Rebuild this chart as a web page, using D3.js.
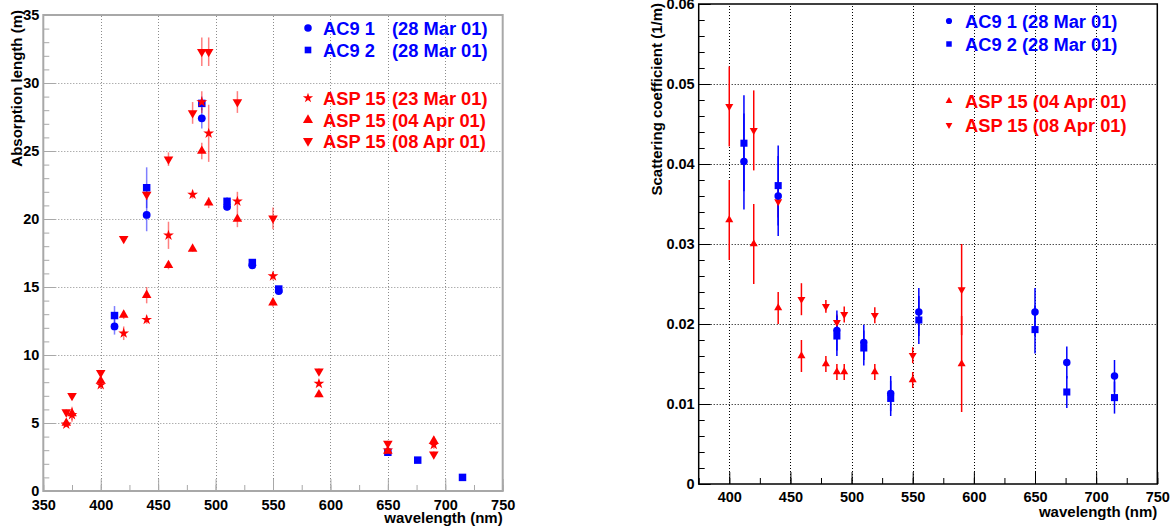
<!DOCTYPE html>
<html>
<head>
<meta charset="utf-8">
<script src="https://cdn.jsdelivr.net/npm/d3@7"></script>
<style>
  body { margin: 0; background: #fff; }
  svg { display: block; font-family: "Liberation Sans", Arial, sans-serif; font-weight: bold; }
</style>
</head>
<body>
<div id="chart"></div>
<script>
// absorption length (m), left panel
const ac9aAbsWl = [412, 440, 488, 510, 532, 555];
const ac9aAbs = [12.1, 20.3, 27.4, 20.9, 16.6, 14.7];
const ac9aAbsErr = [0.6, 1.2, 0.75, 0.3, 0.2, 0.2];

const ac9bAbsWl = [412, 440, 488, 510, 532, 555, 650, 676, 715];
const ac9bAbs = [12.9, 22.3, 28.5, 21.3, 16.8, 14.85, 2.85, 2.27, 1.0];
const ac9bAbsErr = [0.7, 1.5, 0.5, 0.3, 0.2, 0.2, 0.15, 0.1, 0.1];

const aspWl = [370, 375, 400, 420, 440, 459, 480, 488, 494, 519, 550, 590, 650, 690];
const asp23Abs = [4.9, 5.6, 7.8, 11.6, 12.6, 18.8, 21.8, 28.6, 26.3, 21.3, 15.8, 7.9, 3.0, 3.4];
const asp23AbsErr = [0.2, 0.5, 0.3, 0.5, 0.3, 1.0, 0.3, 0.8, 2.1, 0.7, 0.3, 0.2, 0.3, 0.3];
const asp04Abs = [5.0, 5.7, 8.1, 12.95, 14.4, 16.6, 17.8, 25.0, 21.2, 20.0, 13.85, 7.1, 2.95, 3.7];
const asp04AbsErr = [0.2, 0.5, 0.3, 0.3, 0.6, 0.3, 0.2, 0.6, 0.4, 0.6, 0.3, 0.2, 0.3, 0.3];
const asp08Abs = [5.8, 7.0, 8.7, 18.55, 21.8, 24.4, 27.8, 32.3, 32.3, 28.6, 20.05, 8.8, 3.5, 2.7];
const asp08AbsErr = [0.2, 0.2, 0.2, 0.2, 0.4, 0.5, 0.8, 1.05, 1.05, 0.8, 0.8, 0.2, 0.2, 0.2];

// scattering coefficient (1/m), right panel
const ac9ScatWl = [412, 440, 488, 510, 532, 555, 650, 676, 715];
const ac9aScat = [0.0403, 0.036, 0.0192, 0.0177, 0.0113, 0.0215, 0.0215, 0.0152, 0.0135];
const ac9aScatErr = [0.006, 0.005, 0.0025, 0.0022, 0.0022, 0.003, 0.003, 0.002, 0.002];
const ac9bScat = [0.0426, 0.0373, 0.0185, 0.017, 0.0107, 0.0205, 0.0193, 0.0115, 0.0108];
const ac9bScatErr = [0.006, 0.005, 0.0025, 0.0022, 0.0022, 0.003, 0.003, 0.002, 0.002];

const aspScatWl = [400, 420, 440, 459, 479, 488, 494, 519, 550, 590];
const asp04Scat = [0.033, 0.030, 0.022, 0.016, 0.015, 0.014, 0.014, 0.014, 0.013, 0.015];
const asp04ScatErr = [0.005, 0.005, 0.002, 0.002, 0.001, 0.001, 0.001, 0.001, 0.001, 0.006];
const asp08Scat = [0.0472, 0.0442, 0.0353, 0.0231, 0.0222, 0.0202, 0.0212, 0.0211, 0.0161, 0.0243];
const asp08ScatErr = [0.005, 0.005, 0.002, 0.002, 0.0008, 0.001, 0.001, 0.001, 0.001, 0.0057];

const absTicks = [0, 5, 10, 15, 20, 25, 30, 35];
const scatTicks = [0, 0.01, 0.02, 0.03, 0.04, 0.05, 0.06];
const wlTicksLeft = [350, 400, 450, 500, 550, 600, 650, 700, 750];
const wlTicksRight = [400, 450, 500, 550, 600, 650, 700, 750];

const legendNames = ["AC9 1", "AC9 2", "ASP 15", "ASP 15", "ASP 15"];
const legendDates = ["(28 Mar 01)", "(28 Mar 01)", "(23 Mar 01)", "(04 Apr 01)", "(08 Apr 01)"];

const RED = "#ff0000", BLUE = "#0000ff";

const svg = d3.select("#chart").append("svg")
  .attr("width", 1173)
  .attr("height", 527);

const zip = (wl, v, e) => wl.map((w, i) => ({ w, v: v[i], e: e[i] }));

const symbolPath = (kind, size) => {
  const t = { circle: d3.symbolCircle, square: d3.symbolSquare, up: d3.symbolTriangle,
    down: d3.symbolTriangle, star: d3.symbolStar }[kind];
  return d3.symbol().type(t).size(size)();
};

const drawMarker = (g, kind, size, color, x, y) => g.append("path")
  .attr("d", symbolPath(kind, size))
  .attr("fill", color)
  .attr("transform", `translate(${x},${y})` + (kind === "down" ? " rotate(180)" : ""));

const panel = (cfg) => {
  const x = d3.scaleLinear().domain(cfg.xDomain).range(cfg.xRange);
  const y = d3.scaleLinear().domain(cfg.yDomain).range(cfg.yRange);
  const g = svg.append("g");
  const [x0, x1] = cfg.xRange, [y0, y1] = cfg.yRange;

  // grid
  g.append("g")
    .attr("stroke", cfg.gridColor)
    .attr("stroke-dasharray", "1,2")
    .call(gg => gg.selectAll(".gx")
      .data(cfg.xTicks.filter(d => d > cfg.xDomain[0] && d < cfg.xDomain[1]))
      .join("line")
        .attr("x1", d => Math.round(x(d)) + 0.5).attr("x2", d => Math.round(x(d)) + 0.5)
        .attr("y1", y0).attr("y2", y1))
    .call(gg => gg.selectAll(".gy")
      .data(cfg.yTicks.filter(d => d > cfg.yDomain[0] && d < cfg.yDomain[1]))
      .join("line")
        .attr("y1", d => Math.round(y(d)) + 0.5).attr("y2", d => Math.round(y(d)) + 0.5)
        .attr("x1", x0).attr("x2", x1));

  // minor ticks
  g.append("g")
    .attr("transform", `translate(0,${y0})`)
    .call(d3.axisBottom(x).tickValues(d3.range(cfg.xDomain[0], cfg.xDomain[1] + 1, 25)).tickSize(-6).tickFormat(""))
    .call(a => a.selectAll("line").attr("stroke", cfg.axisColor))
    .call(a => a.select(".domain").remove());
  g.append("g")
    .attr("transform", `translate(${x0},0)`)
    .call(d3.axisLeft(y).tickValues(d3.range(cfg.yDomain[0], cfg.yDomain[1] + cfg.yMinor / 2, cfg.yMinor)).tickSize(-6).tickFormat(""))
    .call(a => a.selectAll("line").attr("stroke", cfg.axisColor))
    .call(a => a.select(".domain").remove());

  // major ticks and labels
  g.append("g")
    .attr("transform", `translate(0,${y0})`)
    .call(d3.axisBottom(x).tickValues(cfg.xTicks).tickSize(-12).tickPadding(cfg.xPad).tickFormat(d3.format("d")))
    .call(a => a.selectAll("line").attr("stroke", cfg.axisColor))
    .call(a => a.selectAll("text").attr("font-size", 14.5).attr("font-weight", "bold").attr("fill", "#000"))
    .call(a => a.select(".domain").remove());
  g.append("g")
    .attr("transform", `translate(${x0},0)`)
    .call(d3.axisLeft(y).tickValues(cfg.yTicks).tickSize(-12).tickPadding(4).tickFormat(cfg.yFormat))
    .call(a => a.selectAll("line").attr("stroke", cfg.axisColor))
    .call(a => a.selectAll("text").attr("font-size", 14.5).attr("font-weight", "bold").attr("fill", "#000"))
    .call(a => a.select(".domain").remove());

  // frame
  g.append("rect")
    .attr("x", x0).attr("y", y1)
    .attr("width", x1 - x0).attr("height", y0 - y1)
    .attr("fill", "none")
    .attr("stroke", cfg.axisColor)
    .attr("stroke-width", cfg.frameWidth);

  // titles
  g.append("text")
    .attr("transform", `translate(${cfg.yTitleX},${cfg.yTitleTop}) rotate(-90)`)
    .attr("text-anchor", "end")
    .attr("font-size", 15)
    .text(cfg.yTitle);
  g.append("text")
    .attr("x", x1).attr("y", cfg.xTitleY)
    .attr("text-anchor", "end")
    .attr("font-size", 15)
    .text("wavelength (nm)");

  // data
  cfg.series.forEach(s => {
    const pts = zip(s.wl, s.v, s.e);
    g.append("g")
      .attr("stroke", s.color)
      .attr("stroke-opacity", cfg.errOpacity)
      .attr("stroke-width", cfg.errWidth)
      .selectAll("line")
      .data(pts)
      .join("line")
        .attr("x1", d => x(d.w)).attr("x2", d => x(d.w))
        .attr("y1", d => y(d.v - d.e)).attr("y2", d => y(d.v + d.e));
  });
  cfg.series.forEach(s => {
    const gm = g.append("g");
    zip(s.wl, s.v, s.e).forEach(d => drawMarker(gm, s.kind, s.size, s.color, x(d.w), y(d.v)));
  });

  return g;
};

// left: absorption length
const left = panel({
  xDomain: [350, 750], xRange: [43.3, 502.7],
  yDomain: [0, 35], yRange: [491, 15],
  xTicks: wlTicksLeft, yTicks: absTicks, yMinor: 1,
  yFormat: d3.format("d"), xPad: 9,
  axisColor: "#a8a8a8", gridColor: "#8c8c8c", frameWidth: 2,
  yTitle: "Absorption length (m)", yTitleX: 22, yTitleTop: 10, xTitleY: 523,
  errOpacity: 0.5, errWidth: 1.5,
  series: [
    { wl: ac9bAbsWl, v: ac9bAbs, e: ac9bAbsErr, kind: "square", size: 56, color: BLUE },
    { wl: ac9aAbsWl, v: ac9aAbs, e: ac9aAbsErr, kind: "circle", size: 48, color: BLUE },
    { wl: aspWl, v: asp04Abs, e: asp04AbsErr, kind: "up", size: 40, color: RED },
    { wl: aspWl, v: asp08Abs, e: asp08AbsErr, kind: "down", size: 40, color: RED },
    { wl: aspWl, v: asp23Abs, e: asp23AbsErr, kind: "star", size: 36, color: RED }
  ]
});

const leftLegendKinds = ["circle", "square", "star", "up", "down"];
const leftLegendY = [28, 50, 98, 120, 141];
leftLegendKinds.forEach((k, i) => {
  const color = i < 2 ? BLUE : RED;
  drawMarker(left, k, k === "star" ? 32 : 44, color, 308, leftLegendY[i]);
  left.append("text").attr("x", 323).attr("y", leftLegendY[i] + 6.5)
    .attr("font-size", 18.3).attr("fill", color).text(legendNames[i]);
  left.append("text").attr("x", 392).attr("y", leftLegendY[i] + 6.5)
    .attr("font-size", 18.3).attr("fill", color).text(legendDates[i]);
});

// right: scattering coefficient
const right = panel({
  xDomain: [375, 750], xRange: [698.7, 1157.3],
  yDomain: [0, 0.06], yRange: [484, 4],
  xTicks: wlTicksRight, yTicks: scatTicks, yMinor: 0.002,
  yFormat: d => d === 0 ? "0" : d3.format(".2f")(d), xPad: 8,
  axisColor: "#000", gridColor: "#000", frameWidth: 1.5,
  yTitle: "Scattering coefficient (1/m)", yTitleX: 662, yTitleTop: 3, xTitleY: 517,
  errOpacity: 1, errWidth: 1.5,
  series: [
    { wl: aspScatWl, v: asp04Scat, e: asp04ScatErr, kind: "up", size: 28, color: RED },
    { wl: aspScatWl, v: asp08Scat, e: asp08ScatErr, kind: "down", size: 28, color: RED },
    { wl: ac9ScatWl, v: ac9bScat, e: ac9bScatErr, kind: "square", size: 50, color: BLUE },
    { wl: ac9ScatWl, v: ac9aScat, e: ac9aScatErr, kind: "circle", size: 44, color: BLUE }
  ]
});

const rightLegendRows = [0, 1, 3, 4];
const rightLegendKinds = ["circle", "square", "up", "down"];
const rightLegendY = [21, 44, 101, 125];
rightLegendRows.forEach((r, i) => {
  const color = i < 2 ? BLUE : RED;
  drawMarker(right, rightLegendKinds[i], i < 2 ? 30 : 20, color, 949, rightLegendY[i]);
  right.append("text").attr("x", 965).attr("y", rightLegendY[i] + 6.5)
    .attr("font-size", 18.3).attr("fill", color)
    .text(legendNames[r] + " " + legendDates[r]);
});
</script>
</body>
</html>
